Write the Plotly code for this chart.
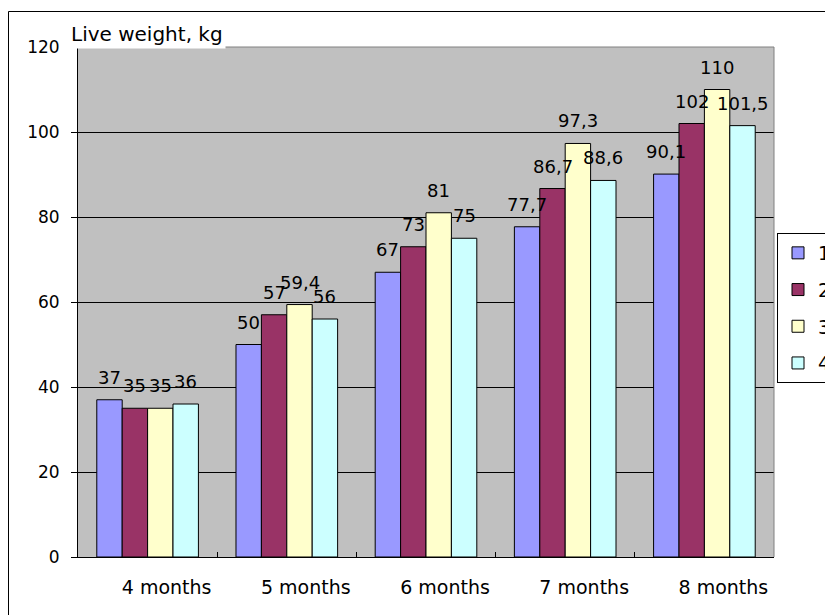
import plotly.graph_objects as go

categories = ["4 months", "5 months", "6 months", "7 months", "8 months"]
series_names = ["1", "2", "3", "4"]
s1 = [37, 50, 67, 77.7, 90.1]
s2 = [35, 57, 73, 86.7, 102]
s3 = [35, 59.4, 81, 97.3, 110]
s4 = [36, 56, 75, 88.6, 101.5]
series_values = [s1, s2, s3, s4]
colors = ["#9999FF", "#993366", "#FFFFCC", "#CCFFFF"]
y_ticks = [0, 20, 40, 60, 80, 100, 120]

FONT = "DejaVu Sans"
BARGAP = 0.27

def fmt(v):
    return ("%g" % v).replace(".", ",")

fig = go.Figure()
for name, vals, col in zip(series_names, series_values, colors):
    fig.add_trace(go.Bar(
        x=categories, y=vals, name=name, legendgroup=name,
        marker=dict(color=col, line=dict(color="black", width=1)),
        hoverinfo="skip",
    ))

# data labels placed above each bar through the axes (category index + group offset)
n = len(series_values)
group_w = 1 - BARGAP
bar_w = group_w / n
annotations = []
for i, vals in enumerate(series_values):
    off = -group_w / 2 + (i + 0.5) * bar_w
    for j, v in enumerate(vals):
        annotations.append(dict(
            text=fmt(v), xref="x", yref="y", x=j + off, y=v,
            xanchor="center", yanchor="bottom", yshift=10, showarrow=False,
            font=dict(family=FONT, size=18, color="black"),
        ))

W, H = 825, 615
L, R, T, B = 78, 51, 47, 58
pw, ph = W - L - R, H - T - B

annotations.append(dict(
    text="Live weight, kg", xref="paper", yref="paper",
    x=(68 - L) / pw, y=1, xanchor="left", yanchor="bottom",
    yshift=-2, showarrow=False, bgcolor="white", borderpad=2,
    font=dict(family=FONT, size=20, color="black")))

fig.update_layout(
    width=W, height=H,
    margin=dict(l=L, r=R, t=T, b=B, pad=0, autoexpand=False),
    paper_bgcolor="white", plot_bgcolor="#C0C0C0",
    barmode="group", bargap=BARGAP, bargroupgap=0,
    font=dict(family=FONT, size=18, color="black"),
    showlegend=True,
    legend=dict(
        x=(777 - L) / pw, y=(557 - 233) / ph, xanchor="left", yanchor="top",
        bgcolor="white", bordercolor="black", borderwidth=1,
        font=dict(family=FONT, size=19, color="black"),
        tracegroupgap=9, itemwidth=30,
    ),
    xaxis=dict(
        type="category", showline=True, linecolor="black", linewidth=1,
        ticks="inside", tickson="boundaries", ticklen=5, tickcolor="black",
        ticklabelshift=19, ticklabelstandoff=13, showgrid=False,
        tickfont=dict(family=FONT, size=19),
    ),
    yaxis=dict(
        range=[0, 120], tickvals=y_ticks, showline=True, linecolor="black",
        linewidth=1, ticks="outside", ticklen=6, tickcolor="black",
        showgrid=True, gridcolor="black", gridwidth=1, zeroline=False,
        ticklabelstandoff=8, tickfont=dict(family=FONT, size=17),
    ),
    shapes=[
        dict(type="line", xref="paper", yref="paper", x0=0, x1=1, y0=1, y1=1,
             line=dict(color="#808080", width=1), layer="above"),
        dict(type="line", xref="paper", yref="paper", x0=1, x1=1, y0=0, y1=1,
             line=dict(color="#808080", width=1), layer="above"),
        dict(type="rect", xref="paper", yref="paper",
             x0=(8.5 - L) / pw, x1=1.5, y0=-0.5, y1=(557 - 11.5) / ph,
             line=dict(color="black", width=1), fillcolor="rgba(0,0,0,0)",
             layer="below"),
    ],
    annotations=annotations,
)

fig.write_html("out.html")
